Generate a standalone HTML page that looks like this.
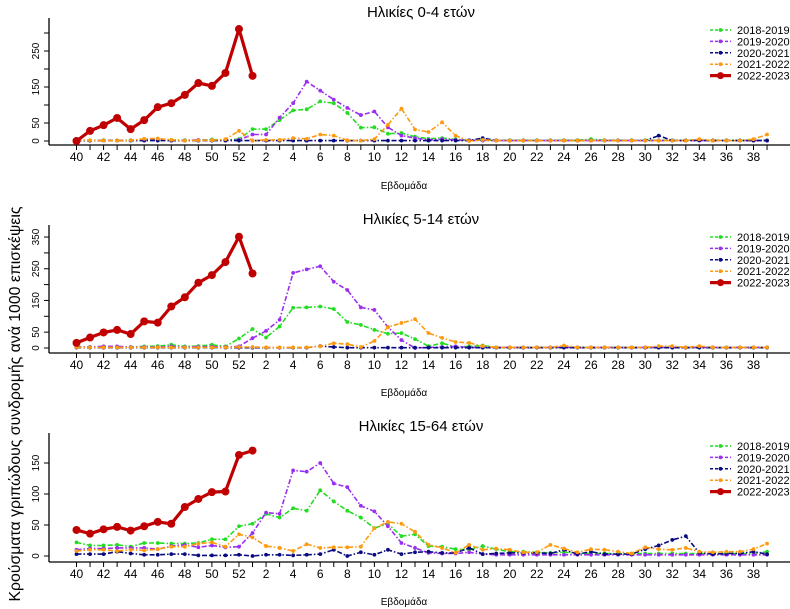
<!DOCTYPE html>
<html><head><meta charset="utf-8">
<style>html,body{margin:0;padding:0;background:#fff;}svg{display:block;}</style>
</head><body>
<svg id="s" width="790" height="609" xmlns="http://www.w3.org/2000/svg" font-family="Liberation Sans, DejaVu Sans, sans-serif"></svg>
<script>
const NS="http://www.w3.org/2000/svg";
const svg=document.getElementById('s');
function el(t,a,txt){const e=document.createElementNS(NS,t);for(const k in a)e.setAttribute(k,a[k]);if(txt!==undefined)e.textContent=txt;svg.appendChild(e);return e;}
const X=i=>76.5+i*13.54;
const weeks=[];for(let w=40;w<=52;w++)weeks.push(w);for(let w=1;w<=39;w++)weeks.push(w);
function fill(base,ov){const a=[];for(let i=0;i<52;i++)a.push(base);for(const k in ov)a[+k]=ov[k];return a;}
const W=n=>n>=40?n-40:12+n;
function ov(obj){const o={};for(const k in obj)o[W(+k)]=obj[k];return o;}
function seq(startWk,arr){const o={};arr.forEach((v,j)=>{o[W(startWk)+j]=v;});return o;}
const C={g:"#22dd22",p:"#9a2ff0",n:"#0a0a80",o:"#ff9a10",r:"#c00000"};
const panels=[
 {title:"Ηλικίες 0-4 ετών",ty:17,y0:141,sc:0.36,ax:145,top:18,ticks:[0,50,100,150,200,250,300],labs:[0,50,150,250],xl:185,leg:30,
  red:[0,28,44,64,33,58,94,105,128,161,153,189,311,181],
  g:fill(2,Object.assign(seq(40,[3,2,2,1,2,4,5,3,2,2,4,3,5]),seq(1,[33,33,58,85,88,110,105,78,37,38,20,22,12,6,8,5,2,2]),ov({26:5}))),
  p:fill(1,Object.assign(seq(40,[3,1,1,1,2,2,3,1,1,3,2,2,3]),seq(1,[18,18,65,105,165,140,115,92,72,82,38,15,8,3,5,3,2]))),
  n:fill(1,ov({18:8,31:15,34:2})),
  o:fill(1,Object.assign(seq(40,[3,2,1,1,2,6,7,3,1,2,2,5,28]),seq(1,[1,3,3,8,6,18,15,2,1,5,45,90,32,25,52,15,0,3]),ov({34:5,38:5,39:18})))},
 {title:"Ηλικίες 5-14 ετών",ty:224,y0:348,sc:0.317,ax:353,top:225,ticks:[0,50,100,150,200,250,300,350],labs:[0,50,150,250,350],xl:392,leg:237,
  red:[16,33,49,57,44,84,80,131,160,206,230,271,351,235],
  g:fill(2,Object.assign(seq(40,[4,3,5,4,3,5,6,10,5,6,10,5,30]),seq(1,[60,33,68,127,128,131,123,82,73,57,45,47,28,6,15,3,5,8]))),
  p:fill(2,Object.assign(seq(40,[3,3,5,5,3,3,3,5,3,4,4,3,5]),seq(1,[31,54,89,237,248,258,209,183,128,120,66,25,0,2,3,5]))),
  n:fill(1,ov({6:6,7:3})),
  o:fill(2,Object.assign(seq(40,[2,2,2,2,2,2,2,2,2,2,2,2,3]),seq(1,[3,2,2,2,2,5,15,12,3,22,66,79,91,47,32,19,16,6]),ov({24:8,31:6,32:6,34:6})))},
 {title:"Ηλικίες 15-64 ετών",ty:431,y0:556,sc:0.62,ax:562,top:433,ticks:[0,50,100,150],labs:[0,50,100,150],xl:601,leg:446,
  red:[42,36,43,47,41,48,55,52,79,92,103,104,163,170],
  g:fill(4,Object.assign(seq(40,[22,17,17,18,15,21,21,20,20,21,27,27,48]),seq(1,[52,68,62,77,73,106,88,73,62,45,52,32,35,16,15,11,10,16,11,7,7,6,5,6]),ov({39:7}))),
  p:fill(2,Object.assign(seq(40,[10,12,12,13,13,13,11,16,18,14,17,14,15]),seq(1,[37,70,68,138,136,150,117,111,81,72,48,21,13,5,4,4,6,3]))),
  n:Object.assign(fill(3,{}),seq(40,[3,3,3,7,4,2,2,3,3,1,1,1,2]),seq(1,[0,2,2,1,2,3,10,0,6,2,10,3,6,7,5,5,13,3,4,5,5,5,4,10,3,7,3,3,3,11,17,26,32,5,3,4,4,7,3])),
  o:Object.assign(fill(5,{}),seq(40,[8,10,10,8,10,9,11,15,15,20,22,15,35]),seq(1,[30,16,13,8,19,13,14,14,15,45,55,52,39,18,13,5,18,10,12,10,6,6,18,12,6,11,10,7,4,14,11,10,13,7,6,7,7,11,20]))}
];
const leg=[["2018-2019",C.g],["2019-2020",C.p],["2020-2021",C.n],["2021-2022",C.o],["2022-2023",C.r]];
panels.forEach(P=>{
 const Y=v=>P.y0-v*P.sc;
 el('text',{x:421,y:P.ty,'font-size':15,'text-anchor':'middle',fill:'#000'},P.title);
 el('line',{x1:49,y1:P.top,x2:49,y2:P.ax,stroke:'#000','stroke-width':1.3});
 el('line',{x1:49,y1:P.ax,x2:790,y2:P.ax,stroke:'#000','stroke-width':1.3});
 P.ticks.forEach(t=>{el('line',{x1:44,y1:Y(t),x2:49,y2:Y(t),stroke:'#000'});});
 P.labs.forEach(t=>{const y=Y(t);el('text',{x:0,y:0,'font-size':10,'text-anchor':'middle',transform:`translate(39,${y}) rotate(-90)`},String(t));});
 for(let i=0;i<52;i++){el('line',{x1:X(i),y1:P.ax,x2:X(i),y2:P.ax+5,stroke:'#000'});
  if(i%2==0)el('text',{x:X(i),y:P.ax+16,'font-size':12,'text-anchor':'middle'},String(weeks[i]));}
 el('text',{x:404,y:P.xl+4,'font-size':10,'text-anchor':'middle'},'Εβδομάδα');
 [['g',C.g],['p',C.p],['n',C.n],['o',C.o]].forEach(([k,c])=>{
  const d=P[k];const pts=d.map((v,i)=>X(i).toFixed(1)+','+Y(v).toFixed(1)).join(' ');
  el('polyline',{points:pts,fill:'none',stroke:c,'stroke-width':1.6,'stroke-dasharray':'5,2,1.5,2'});
  d.forEach((v,i)=>el('circle',{cx:X(i),cy:Y(v),r:1.9,fill:c}));
 });
 const pts=P.red.map((v,i)=>X(i).toFixed(1)+','+Y(v).toFixed(1)).join(' ');
 el('polyline',{points:pts,fill:'none',stroke:C.r,'stroke-width':3.2,'stroke-linejoin':'round'});
 P.red.forEach((v,i)=>el('circle',{cx:X(i),cy:Y(v),r:4,fill:C.r}));
 leg.forEach(([t,c],j)=>{const y=P.leg+j*11.4;
  if(j<4){el('line',{x1:710,y1:y,x2:731,y2:y,stroke:c,'stroke-width':1.5,'stroke-dasharray':'3,2'});el('circle',{cx:720.5,cy:y,r:1.9,fill:c});}
  else{el('line',{x1:710,y1:y,x2:731,y2:y,stroke:c,'stroke-width':3.2});el('circle',{cx:720.5,cy:y,r:3.5,fill:c});}
  el('text',{x:737,y:y+4,'font-size':11},t);});
});
el('text',{x:0,y:0,'font-size':16,'text-anchor':'middle',textLength:395,lengthAdjust:'spacingAndGlyphs',transform:'translate(20,404) rotate(-90)'},'Κρούσματα γριπώδους συνδρομής ανά 1000 επισκέψεις');
</script>
</body></html>
